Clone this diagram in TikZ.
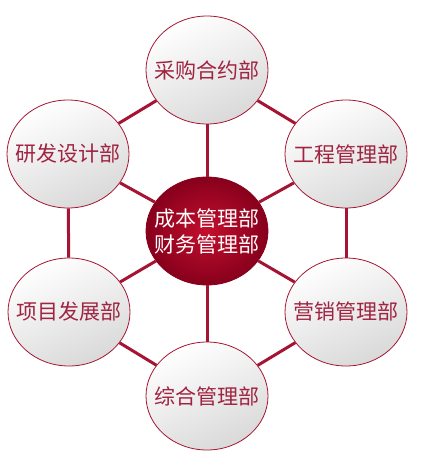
\documentclass[tikz,border=0pt]{standalone}
\usepackage{fontspec}
\newfontfamily\cjk{Noto Sans CJK SC}
\usetikzlibrary{shapes.geometric}
\definecolor{linkred}{RGB}{165,20,50}
\definecolor{deptred}{RGB}{160,35,65}
\definecolor{hubin}{RGB}{195,15,45}
\definecolor{hubout}{RGB}{135,0,28}
\begin{document}
\begin{tikzpicture}[x=1pt, y=-1pt,
  dept/.style = {ellipse, draw=linkred, line width=0.8pt, minimum width=122pt, minimum height=108pt, inner xsep=-25pt, inner ysep=0pt, top color=white, bottom color=black!15, shading angle=25, text=deptred, font=\cjk\fontsize{21}{24}\selectfont},
  hub/.style = {ellipse, draw=hubout, line width=0.8pt, minimum width=122pt, minimum height=108pt, inner xsep=-25pt, inner ysep=0pt, inner color=hubin, outer color=hubout, text=white, align=center, font=\cjk\fontsize{21}{26}\selectfont},
  link/.style = {draw=linkred, line width=3pt}]
	\useasboundingbox (0,0) rectangle (430,467);
	\node[hub] (cb) at (207,231) {成本管理部\\财务管理部};
	\node[dept] (cg) at (207,70) {采购合约部};
	\node[dept] (yf) at (68,154) {研发设计部};
	\node[dept] (gc) at (346,154) {工程管理部};
	\node[dept] (xm) at (69,312) {项目发展部};
	\node[dept] (yx) at (346,312) {营销管理部};
	\node[dept] (zh) at (207,396) {综合管理部};
	\draw[link] (cg) -- (cb);
	\draw[link] (cg) -- (yf);
	\draw[link] (cg) -- (gc);
	\draw[link] (yf) -- (cb);
	\draw[link] (gc) -- (cb);
	\draw[link] (yf) -- (xm);
	\draw[link] (gc) -- (yx);
	\draw[link] (xm) -- (cb);
	\draw[link] (yx) -- (cb);
	\draw[link] (xm) -- (zh);
	\draw[link] (yx) -- (zh);
	\draw[link] (zh) -- (cb);
\end{tikzpicture}
\end{document}
